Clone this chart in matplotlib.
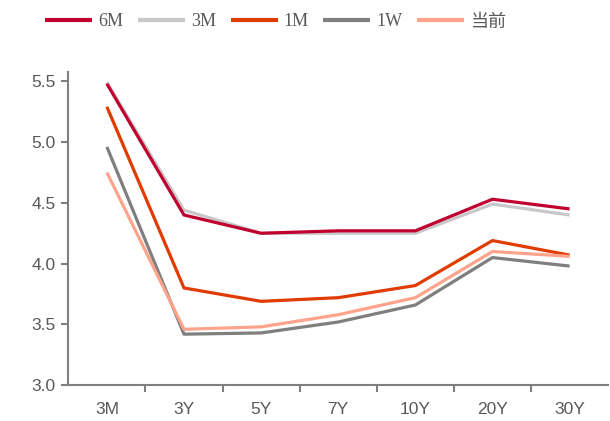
import matplotlib.pyplot as plt
import numpy as np

tenors = ["3M", "3Y", "5Y", "7Y", "10Y", "20Y", "30Y"]
rate_6m = [5.48, 4.40, 4.25, 4.27, 4.27, 4.53, 4.45]
rate_3m = [5.49, 4.44, 4.25, 4.25, 4.25, 4.49, 4.40]
rate_1m = [5.29, 3.80, 3.69, 3.72, 3.82, 4.19, 4.07]
rate_1w = [4.96, 3.42, 3.43, 3.52, 3.66, 4.05, 3.98]
rate_now = [4.75, 3.46, 3.48, 3.58, 3.72, 4.10, 4.06]

fig = plt.figure(figsize=(6.1, 4.21), dpi=100)
ax = fig.add_axes([0.112, 0.085, 0.885, 0.745])

x = np.arange(len(tenors))
series = [
    ("6M", rate_6m, "#C0002E", 4),
    ("3M", rate_3m, "#C8C8C8", 3),
    ("1M", rate_1m, "#E03C00", 5),
    ("1W", rate_1w, "#7F7F7F", 2),
    ("当前", rate_now, "#FFA38C", 6),
]
for name, vals, color, z in series:
    ax.plot(x, vals, color=color, lw=2.3, label=name, zorder=z,
            solid_capstyle="butt")

ax.set_xlim(-0.5, len(tenors) - 0.5)
ax.set_ylim(3.0, 5.58)
ax.set_yticks([3.0, 3.5, 4.0, 4.5, 5.0, 5.5])
ax.set_yticklabels(["3.0", "3.5", "4.0", "4.5", "5.0", "5.5"])
ax.set_xticks(x)
ax.set_xticklabels(tenors)
ax.set_xticks(np.arange(0.5, len(tenors) - 0.5), minor=True)

for side in ["top", "right"]:
    ax.spines[side].set_visible(False)
for side in ["left", "bottom"]:
    ax.spines[side].set_color("#808080")
    ax.spines[side].set_linewidth(1.5)

ax.tick_params(axis="x", which="major", length=0, pad=12,
               labelsize=12.5, labelcolor="#595959")
ax.tick_params(axis="x", which="minor", length=5, width=1.5, color="#808080")
ax.tick_params(axis="y", length=5, width=1.5, color="#808080", pad=4,
               labelsize=12.5, labelcolor="#595959")
for lbl in ax.get_xticklabels() + ax.get_yticklabels():
    lbl.set_family("Liberation Sans")

leg = fig.legend(loc="center left", bbox_to_anchor=(0.074, 1 - 22 / 421),
                 ncol=5, frameon=False, borderpad=0, borderaxespad=0,
                 handlelength=2.6, handletextpad=0.35, columnspacing=0.8,
                 prop={"family": ["Liberation Serif", "Noto Sans CJK SC"],
                       "size": 13})
for t in leg.get_texts():
    t.set_color("#595959")
for h in leg.get_lines():
    h.set_linewidth(3)

fig.savefig("out.png", dpi=100)
